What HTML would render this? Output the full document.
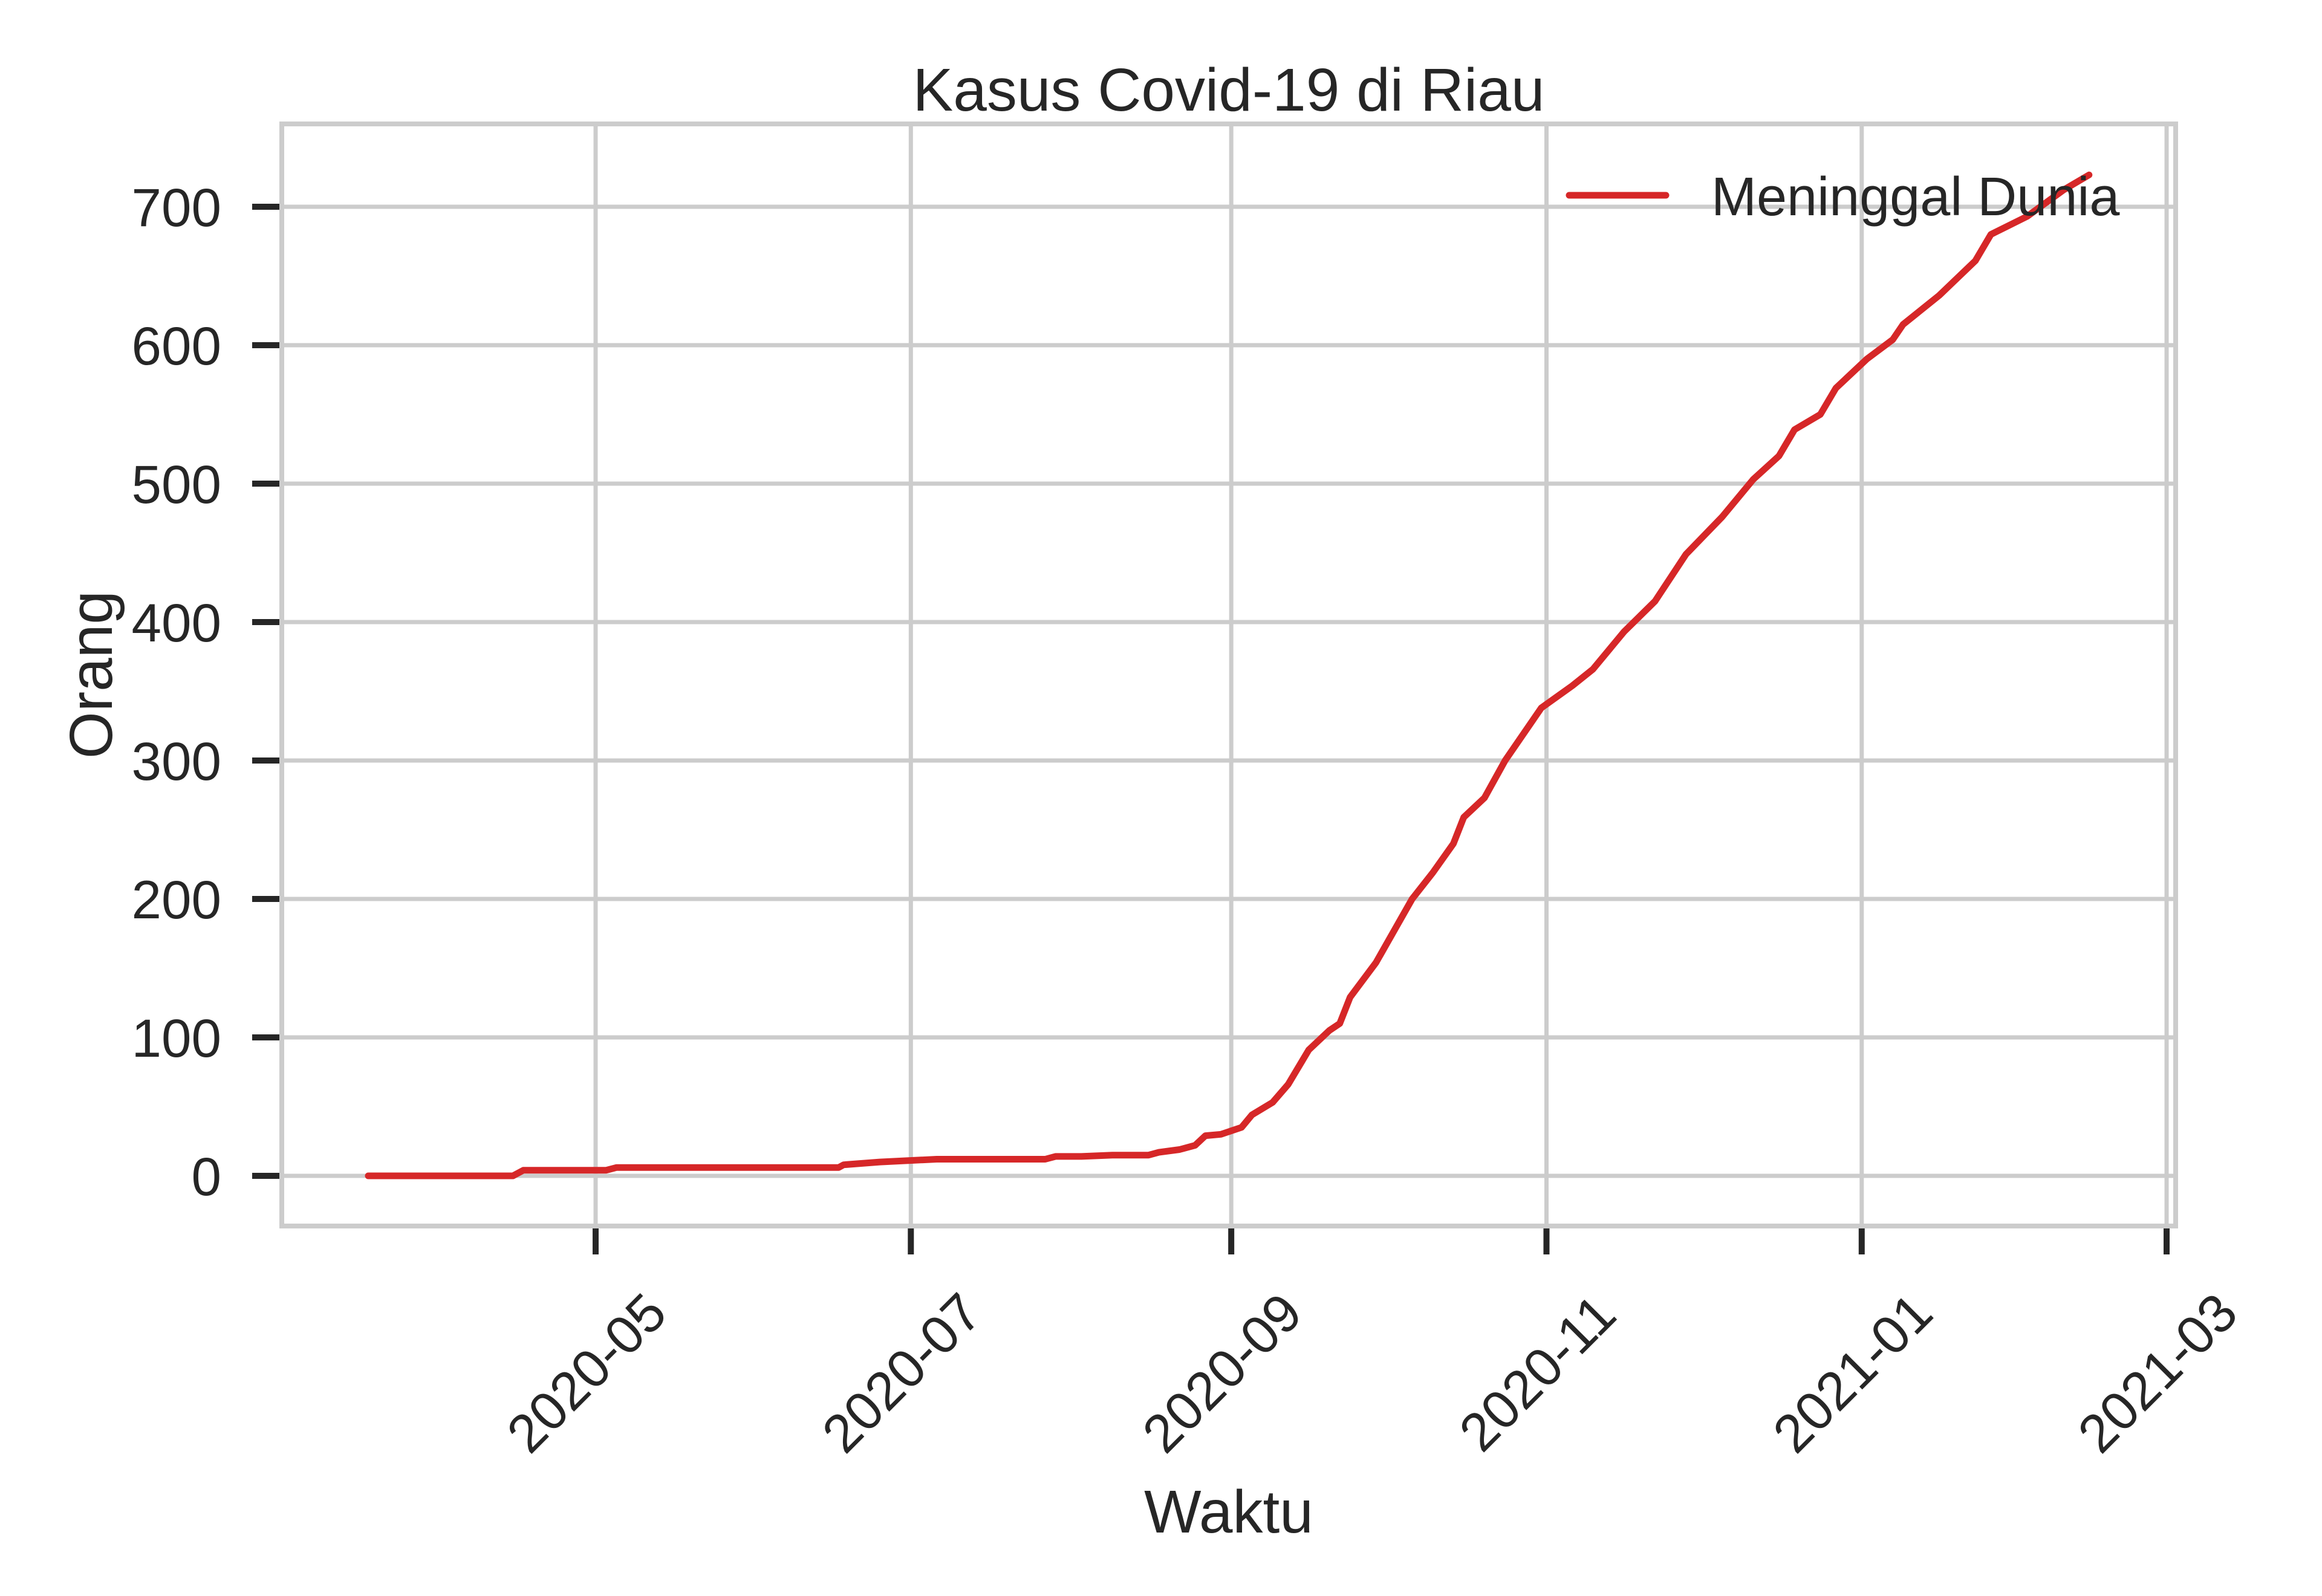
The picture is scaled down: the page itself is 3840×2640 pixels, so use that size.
<!DOCTYPE html>
<html><head><meta charset="utf-8"><style>
html,body{margin:0;padding:0;background:#fff;}
svg{display:block;font-family:"Liberation Sans",Arial,sans-serif;}
</style></head><body>
<svg id="chart" width="3840" height="2640" viewBox="0 0 3840 2640" xmlns="http://www.w3.org/2000/svg">
<rect width="3840" height="2640" fill="#fff"/>
<g id="grid"></g>
<g id="axes"></g>
<g id="series"></g>
<text x="2032" y="183" font-size="100" text-anchor="middle" fill="#262626">Kasus Covid-19 di Riau</text>
<text x="2032" y="2535" font-size="100" text-anchor="middle" fill="#262626">Waktu</text>
<text x="0" y="0" font-size="100" text-anchor="middle" fill="#262626" transform="translate(185,1116) rotate(-90)">Orang</text>
<g>
<line x1="2595" y1="323" x2="2755" y2="323" stroke="#d62728" stroke-width="11" stroke-linecap="round"/>
<text x="2830" y="356" font-size="90" fill="#262626">Meninggal Dunia</text>
</g>
</svg>
<script>
const dates = ["2020-03-18","2020-04-15","2020-04-17","2020-05-03","2020-05-05","2020-06-17","2020-06-18","2020-06-25","2020-07-06","2020-07-27","2020-07-29","2020-08-03","2020-08-09","2020-08-16","2020-08-18","2020-08-22","2020-08-25","2020-08-27","2020-08-30","2020-09-03","2020-09-05","2020-09-09","2020-09-12","2020-09-16","2020-09-20","2020-09-22","2020-09-24","2020-09-29","2020-10-06","2020-10-10","2020-10-14","2020-10-16","2020-10-20","2020-10-24","2020-10-31","2020-11-06","2020-11-10","2020-11-16","2020-11-22","2020-11-28","2020-12-05","2020-12-11","2020-12-16","2020-12-19","2020-12-24","2020-12-27","2021-01-02","2021-01-07","2021-01-09","2021-01-16","2021-01-23","2021-01-26","2021-02-02","2021-02-09","2021-02-14"];
const deaths = [0,0,4,4,6,6,8,10,12,12,14,14,15,15,17,19,22,29,30,35,44,53,66,91,105,110,129,154,200,219,240,259,273,300,338,354,366,393,415,449,476,503,520,539,550,569,590,604,615,636,661,680,693,712,723];
const xTickDates = ["2020-05-01","2020-07-01","2020-09-01","2020-11-01","2021-01-01","2021-03-01"];
const xTickLabels = ["2020-05","2020-07","2020-09","2020-11","2021-01","2021-03"];
const yTicks = [0,100,200,300,400,500,600,700];

const NS="http://www.w3.org/2000/svg";
const L=466,R=3598,T=205,B=2028;
const d0=Date.UTC(2020,4,1), d1=Date.UTC(2021,2,1);
function ms(s){const p=s.split("-");return Date.UTC(+p[0],+p[1]-1,+p[2]);}
function xs(s){return 985+(ms(s)-d0)/(d1-d0)*(3583-985);}
function ys(v){return 1945-v*(1945-342)/700;}
function mk(tag,attrs,parent){const e=document.createElementNS(NS,tag);for(const k in attrs)e.setAttribute(k,attrs[k]);parent.appendChild(e);return e;}
const grid=document.getElementById("grid"),axes=document.getElementById("axes"),series=document.getElementById("series");
yTicks.forEach(v=>{
  const y=ys(v);
  const g=mk("line",{x1:L,x2:R,y1:y,y2:y,stroke:"#cccccc","stroke-width":7},grid);
  
  
  const t=mk("line",{x1:417,x2:L,y1:y,y2:y,stroke:"#262626","stroke-width":10},axes);
  
  
  const tx=mk("text",{x:366,y:y+32,"font-size":89,"text-anchor":"end",fill:"#262626"},axes);
  tx.textContent=v;
  
  
});
xTickDates.forEach((d,i)=>{
  const x=xs(d);
  const g=mk("line",{x1:x,x2:x,y1:T,y2:B,stroke:"#cccccc","stroke-width":7},grid);
  
  
  const t=mk("line",{x1:x,x2:x,y1:B,y2:B+47,stroke:"#262626","stroke-width":10},axes);
  
  
  const cx=x-16, cy=2270;
  const tx=mk("text",{x:0,y:32,"font-size":89,"text-anchor":"middle",fill:"#262626",transform:`translate(${cx},${cy}) rotate(-45)`},axes);
  tx.textContent=xTickLabels[i];
  
  
});
const frame=mk("rect",{x:L,y:T,width:R-L,height:B-T,fill:"none",stroke:"#cccccc","stroke-width":8},axes);


const pts=dates.map((d,i)=>xs(d).toFixed(1)+","+ys(deaths[i]).toFixed(1)).join(" ");
const line=mk("polyline",{points:pts,fill:"none",stroke:"#d62728","stroke-width":11,"stroke-linejoin":"round","stroke-linecap":"round"},series);


</script>
</body></html>
